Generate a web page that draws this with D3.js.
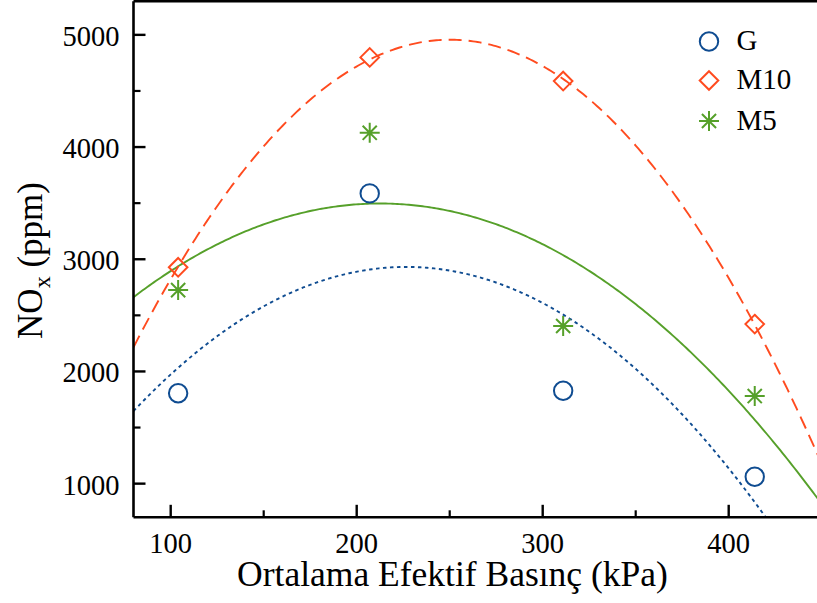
<!DOCTYPE html>
<html>
<head>
<meta charset="utf-8">
<script src="https://cdn.jsdelivr.net/npm/d3@7"></script>
<style>
  html, body { margin: 0; padding: 0; background: #fff; }
  svg { display: block; }
  text { font-family: "Liberation Serif", "Times New Roman", serif; fill: #000; }
</style>
</head>
<body>
<svg id="chart" width="817" height="603"></svg>
<script>
// ---- data ----
const pressure = [104, 207, 311, 414];          // kPa
const seriesNames = ["G", "M10", "M5"];
const noxG   = [1805, 3587, 1828, 1062];
const noxM10 = [2928, 4799, 4588, 2422];
const noxM5  = [2725, 4127, 2405, 1781];
const xTicks = [100, 200, 300, 400];
const yTicks = [1000, 2000, 3000, 4000, 5000];
const xMinorTicks = [150, 250, 350, 450];
const yMinorTicks = [1500, 2500, 3500, 4500];

const colors = { G: "#0f4c91", M10: "#ff4b1f", M5: "#56a02a" };

const svg = d3.select("#chart");
const plotL = 133.5, plotR = 821.7, plotT = 1.2, plotB = 517.3;

const x = d3.scaleLinear().domain([80, 450]).range([plotL, plotR]);
const y = d3.scaleLinear().domain([700, 5300]).range([plotB, plotT]);

// clip
svg.append("defs").append("clipPath").attr("id", "clip")
  .append("rect").attr("x", plotL).attr("y", plotT).attr("width", plotR - plotL).attr("height", plotB - plotT);

// quadratic least squares fit
function quadFit(xs, ys) {
  const n = xs.length;
  let s = [0,0,0,0,0], t = [0,0,0];
  for (let i = 0; i < n; i++) {
    const xi = xs[i], yi = ys[i];
    for (let k = 0; k <= 4; k++) s[k] += Math.pow(xi, k);
    for (let k = 0; k <= 2; k++) t[k] += Math.pow(xi, k) * yi;
  }
  const M = [[s[0], s[1], s[2], t[0]], [s[1], s[2], s[3], t[1]], [s[2], s[3], s[4], t[2]]];
  for (let i = 0; i < 3; i++) {
    let p = i;
    for (let r = i + 1; r < 3; r++) if (Math.abs(M[r][i]) > Math.abs(M[p][i])) p = r;
    [M[i], M[p]] = [M[p], M[i]];
    for (let r = 0; r < 3; r++) {
      if (r === i) continue;
      const f = M[r][i] / M[i][i];
      for (let c = i; c < 4; c++) M[r][c] -= f * M[i][c];
    }
  }
  const c = [M[0][3] / M[0][0], M[1][3] / M[1][1], M[2][3] / M[2][2]];
  return v => c[0] + c[1] * v + c[2] * v * v;
}

const seriesData = { G: noxG, M10: noxM10, M5: noxM5 };
const dashes = { G: "3.5,3.5", M10: "13,7", M5: null };

const line = d3.line().x(d => x(d[0])).y(d => y(d[1]));
const curveG = svg.append("g").attr("clip-path", "url(#clip)");
["M5", "G", "M10"].forEach(name => {
  const f = quadFit(pressure, seriesData[name]);
  const dom = x.domain();
  const pts = d3.range(0, 301).map(i => {
    const v = dom[0] + (dom[1] - dom[0]) * i / 300;
    return [v, f(v)];
  });
  curveG.append("path").datum(pts)
    .attr("d", line)
    .attr("fill", "none")
    .attr("stroke", colors[name])
    .attr("stroke-width", 1.9)
    .attr("stroke-dasharray", dashes[name]);
});

// markers
function drawMarker(g, name, cx, cy) {
  const col = colors[name];
  if (name === "G") {
    g.append("circle").attr("cx", cx).attr("cy", cy).attr("r", 9.2)
      .attr("fill", "none").attr("stroke", col).attr("stroke-width", 2);
  } else if (name === "M10") {
    const r = 9.3;
    g.append("path").attr("d", `M${cx},${cy - r}L${cx + r},${cy}L${cx},${cy + r}L${cx - r},${cy}Z`)
      .attr("fill", "none").attr("stroke", col).attr("stroke-width", 2);
  } else {
    const r = 10;
    const d = [0, 45, 90, 135].map(a => {
      const rad = a * Math.PI / 180;
      const dx = r * Math.cos(rad), dy = r * Math.sin(rad);
      return `M${cx - dx},${cy - dy}L${cx + dx},${cy + dy}`;
    }).join("");
    g.append("path").attr("d", d).attr("fill", "none").attr("stroke", col).attr("stroke-width", 2);
  }
}
const markG = svg.append("g");
seriesNames.forEach(name => {
  seriesData[name].forEach((v, i) => drawMarker(markG, name, x(pressure[i]), y(v)));
});

// axes frame
const axisG = svg.append("g");
axisG.append("line").attr("x1", plotL).attr("x2", plotR).attr("y1", plotB).attr("y2", plotB)
  .attr("stroke", "#000").attr("stroke-width", 2.6);
axisG.append("line").attr("x1", plotL).attr("x2", plotL).attr("y1", plotT).attr("y2", plotB)
  .attr("stroke", "#000").attr("stroke-width", 2.6);
axisG.append("line").attr("x1", plotL).attr("x2", plotR).attr("y1", plotT).attr("y2", plotT)
  .attr("stroke", "#000").attr("stroke-width", 2.6);

// x ticks (inward)
axisG.selectAll(".xt").data(xTicks).join("line")
  .attr("x1", d => x(d)).attr("x2", d => x(d)).attr("y1", plotB).attr("y2", plotB - 12.5)
  .attr("stroke", "#000").attr("stroke-width", 2.4);
axisG.selectAll(".xm").data(xMinorTicks).join("line")
  .attr("x1", d => x(d)).attr("x2", d => x(d)).attr("y1", plotB).attr("y2", plotB - 7)
  .attr("stroke", "#000").attr("stroke-width", 2.2);
axisG.selectAll(".xl").data(xTicks).join("text")
  .attr("x", d => x(d)).attr("y", 553).attr("text-anchor", "middle")
  .attr("font-size", 28.5).text(d => d);

// y ticks (inward)
axisG.selectAll(".yt").data(yTicks).join("line")
  .attr("x1", plotL).attr("x2", plotL + 12).attr("y1", d => y(d)).attr("y2", d => y(d))
  .attr("stroke", "#000").attr("stroke-width", 2.4);
axisG.selectAll(".ym").data(yMinorTicks).join("line")
  .attr("x1", plotL).attr("x2", plotL + 7).attr("y1", d => y(d)).attr("y2", d => y(d))
  .attr("stroke", "#000").attr("stroke-width", 2.2);
axisG.selectAll(".yl").data(yTicks).join("text")
  .attr("x", 119.5).attr("y", d => y(d) + 11).attr("text-anchor", "end")
  .attr("font-size", 28.5).text(d => d);

// axis titles
svg.append("text").attr("x", 452.5).attr("y", 586).attr("text-anchor", "middle")
  .attr("font-size", 35.5).text("Ortalama Efektif Basınç (kPa)");

const yt = svg.append("text").attr("transform", "translate(41.5,260.5) rotate(-90)")
  .attr("text-anchor", "middle").attr("font-size", 35);
yt.append("tspan").text("NO");
yt.append("tspan").attr("font-size", 24).attr("dy", 8).text("x");
yt.append("tspan").attr("dy", -8).text(" (ppm)");

// legend
const legRows = [41.5, 80.5, 121];
const legG = svg.append("g");
seriesNames.forEach((name, i) => {
  drawMarker(legG, name, 709, legRows[i]);
  legG.append("text").attr("x", 736.5).attr("y", legRows[i] + 8.5)
    .attr("font-size", 29).text(name);
});
</script>
</body>
</html>
